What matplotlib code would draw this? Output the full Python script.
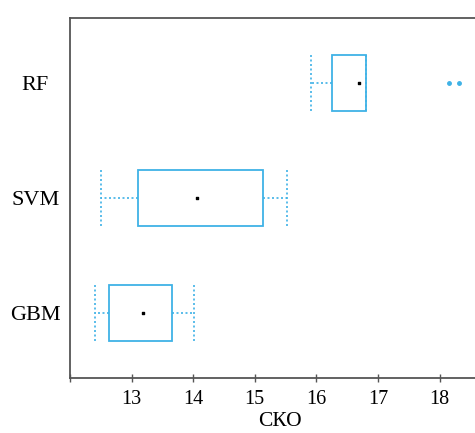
import matplotlib
matplotlib.use("Agg")
import matplotlib.pyplot as plt

# Data (values in СКО units)
models = ["GBM", "SVM", "RF"]
whislo = [12.40, 12.50, 15.91]
q1 = [12.63, 13.10, 16.25]
q3 = [13.65, 15.13, 16.80]
whishi = [14.01, 15.52, 16.80]
centers = [13.19, 14.07, 16.69]
fliers = [[], [], [18.15, 18.32]]
xticks = [12, 13, 14, 15, 16, 17, 18]
xticklabels = ["", "13", "14", "15", "16", "17", "18"]

plt.rcParams['font.family'] = ['Liberation Serif', 'DejaVu Serif']

fig = plt.figure(figsize=(4.75, 4.33), dpi=100)
ax = fig.add_axes([70/475, 1-378/433, 420/475, 360/433])

blue = '#3fb2e6'
stats = []
for i in range(len(models)):
    stats.append(dict(med=centers[i], q1=q1[i], q3=q3[i], whislo=whislo[i],
                      whishi=whishi[i], fliers=fliers[i], label=models[i]))

ax.bxp(stats, positions=[1, 2, 3], widths=0.49, vert=False, showfliers=True,
       patch_artist=True, shownotches=False,
       boxprops=dict(facecolor='white', edgecolor=blue, linewidth=1.3),
       whiskerprops=dict(color=blue, linestyle=(0, (1.2, 1.5)), linewidth=1.2),
       capprops=dict(color=blue, linestyle=(0, (1.2, 1.5)), linewidth=1.2),
       medianprops=dict(linewidth=0),
       flierprops=dict(marker='o', markersize=2.5, markerfacecolor=blue,
                       markeredgecolor=blue, linestyle='none'),
       capwidths=0.49)

ax.scatter(centers, [1, 2, 3], marker='s', s=4, color='black', zorder=5)

ax.set_xticks(xticks)
ax.set_xticklabels(xticklabels, fontsize=14.5)
ax.set_yticks([1, 2, 3])
ax.set_yticklabels(models, fontsize=16, ha='center')
ax.set_xlim(12, 18.82)
ax.set_ylim(0.43, 3.57)
ax.tick_params(axis='y', length=0, pad=25)
ax.tick_params(axis='x', direction='inout', length=6, width=1, color='#555555', pad=6)
ax.set_xlabel("СКО", fontsize=15.5, labelpad=2)

for s in ['left', 'bottom', 'top']:
    ax.spines[s].set_color('#555555')
    ax.spines[s].set_linewidth(1.3)
ax.spines['right'].set_visible(False)

fig.savefig("out.png", dpi=100)
